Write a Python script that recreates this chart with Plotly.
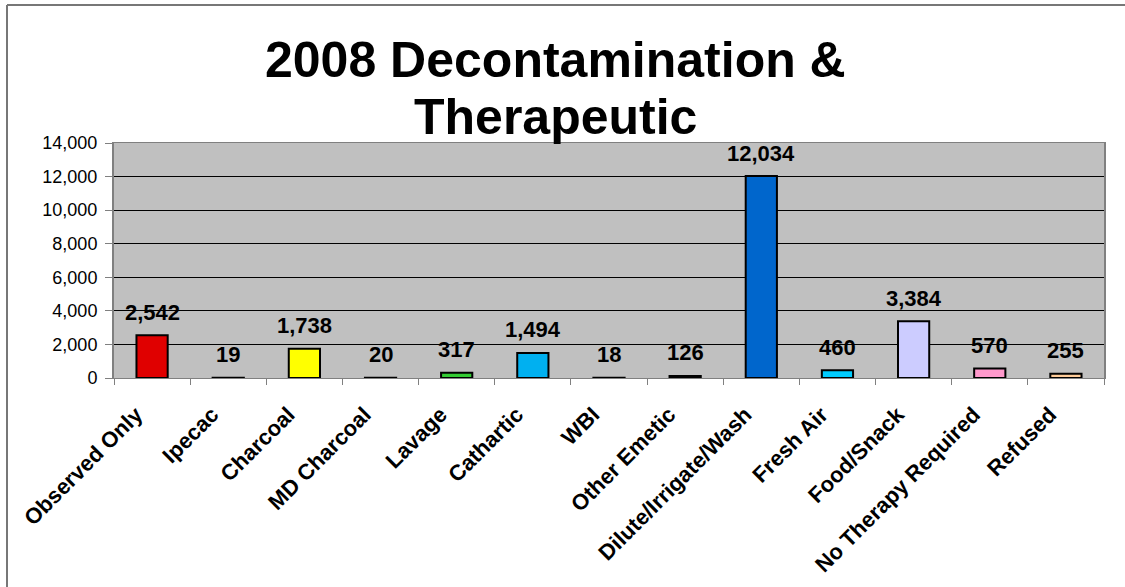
import plotly.graph_objects as go

categories = ["Observed Only", "Ipecac", "Charcoal", "MD Charcoal", "Lavage", "Cathartic",
              "WBI", "Other Emetic", "Dilute/Irrigate/Wash", "Fresh Air", "Food/Snack",
              "No Therapy Required", "Refused"]
values = [2542, 19, 1738, 20, 317, 1494, 18, 126, 12034, 460, 3384, 570, 255]
colors = ["#E00000", "#1A1A1A", "#FFFF00", "#1A1A1A", "#33CC33", "#00B0F0", "#1A1A1A",
          "#000000", "#0066CC", "#00CCFF", "#CCCCFF", "#FF99CC", "#FFCC99"]
title_lines = ["2008 Decontamination &", "Therapeutic"]
y_ticks = [0, 2000, 4000, 6000, 8000, 10000, 12000, 14000]

FONT = "Arial, 'Liberation Sans', sans-serif"
W, H = 1125, 587
L, R, T, B = 114, 21, 143, 209
pw, ph = W - L - R, H - T - B


def px_x(x):
    return (x - L) / pw


def px_y(y):
    return (H - B - y) / ph


fig = go.Figure()
fig.add_trace(go.Bar(
    x=categories, y=values,
    marker=dict(color=colors, line=dict(color="black", width=2)),
    width=0.41,
    hoverinfo="x+y",
))

for c, v in zip(categories, values):
    fig.add_annotation(x=c, y=v, text=f"<b>{v:,}</b>", showarrow=False,
                       yanchor="middle", yshift=23,
                       font=dict(family=FONT, size=22, color="black"))

for line, yc in zip(title_lines, [60, 117]):
    fig.add_annotation(xref="paper", yref="paper", x=px_x(555), y=px_y(yc),
                       xanchor="center", yanchor="middle",
                       text=f"<b>{line}</b>", showarrow=False,
                       font=dict(family=FONT, size=50, color="black"))

# outer frame (left and top visible)
fig.add_shape(type="line", xref="paper", yref="paper", x0=px_x(7), x1=px_x(7),
              y0=px_y(H + 5), y1=px_y(5), line=dict(color="#777777", width=2))
fig.add_shape(type="line", xref="paper", yref="paper", x0=px_x(7), x1=px_x(W + 5),
              y0=px_y(5), y1=px_y(5), line=dict(color="#777777", width=2))

fig.update_layout(
    width=W, height=H,
    margin=dict(l=L, r=R, t=T, b=B, autoexpand=False),
    paper_bgcolor="white", plot_bgcolor="#C0C0C0",
    showlegend=False, bargap=0.59,
    font=dict(family=FONT, color="black"),
)
fig.update_xaxes(
    tickangle=-45, tickfont=dict(family=FONT, size=22, color="black"),
    ticks="outside", ticklen=6, tickcolor="#808080", tickson="boundaries",
    ticklabelstandoff=14, ticklabelshift=-16,
    showline=True, linecolor="#808080", linewidth=1, mirror=True,
    showgrid=False, tickprefix="<b>", ticksuffix="</b>",
)
fig.update_yaxes(
    range=[0, 14000], tickvals=y_ticks, tickformat=",",
    tickfont=dict(family=FONT, size=18, color="black"),
    ticks="outside", ticklen=7, tickcolor="#808080", ticklabelstandoff=4,
    showline=True, linecolor="#808080", linewidth=2, mirror=True,
    showgrid=True, gridcolor="black", gridwidth=1, zeroline=False,
)

fig.write_html("out.html", config={"displayModeBar": False},
               post_script="document.body.style.margin='0';document.body.style.overflow='hidden';")
